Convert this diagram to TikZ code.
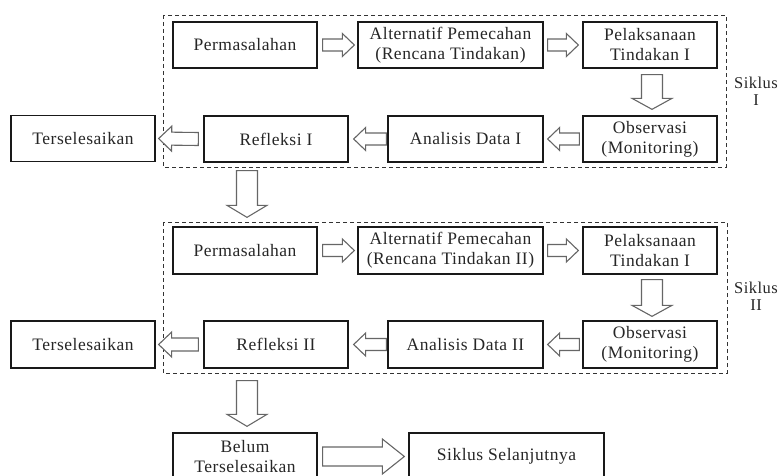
\documentclass[tikz,border=0pt]{standalone}
\usepackage{fontspec}
\setmainfont{Liberation Serif}[LetterSpace=3]
\usetikzlibrary{calc}
\newcommand\blockarrow[5]{%
  \draw[blk] let \p1=(#1), \p2=(#2), \p3=($(#2)!#5!(#1)$) in
   ($(\p1)!#3!90:(\p2)$) -- ($(\p3)!#3!90:(\p2)$) -- ($(\p3)!#4!90:(\p2)$) -- (\p2)
   -- ($(\p3)!#4!-90:(\p2)$) -- ($(\p3)!#3!-90:(\p2)$) -- ($(\p1)!#3!-90:(\p2)$) -- cycle;}
\begin{document}
\begin{tikzpicture}[x=1pt,y=-1pt,
  box/.style={draw=black!90, line width=1.3pt, minimum height=46pt, inner sep=2pt,
    align=center, font=\fontsize{17.5}{20}\selectfont, text=black!85},
  blk/.style={draw=black!60, line width=1.1pt, fill=white, line join=miter},
  cyc/.style={draw=black!80, line width=0.9pt, dash pattern=on 4pt off 3pt},
  lbl/.style={align=center, font=\fontsize{16.5}{17}\selectfont, text=black!85}]
\useasboundingbox (0,0) rectangle (781,476);
% cycle frames
\draw[cyc] (163,15) rectangle (726,167);
\draw[cyc] (163,222) rectangle (727,373);
% cycle I
\node[box, minimum width=144pt] (perm1) at (245,45) {Permasalahan};
\node[box, minimum width=185pt] (alt1) at (450.5,45) {Alternatif Pemecahan\\(Rencana Tindakan)};
\node[box, minimum width=134pt] (pel1) at (650,45) {Pelaksanaan\\Tindakan I};
\node[box, minimum width=134pt] (obs1) at (650,139) {Observasi\\(Monitoring)};
\node[box, minimum width=155pt] (ana1) at (465.5,139) {Analisis Data I};
\node[box, minimum width=144pt] (ref1) at (276,139) {Refleksi I};
\node[box, minimum width=144pt] (ter1) at (83,138.5) {Terselesaikan};
\node[lbl] (sik1) at (756,91) {Siklus\\I};
% cycle II
\node[box, minimum width=144pt, minimum height=47pt] (perm2) at (245,250.5) {Permasalahan};
\node[box, minimum width=185pt, minimum height=47pt] (alt2) at (450.5,250.5) {Alternatif Pemecahan\\(Rencana Tindakan II)};
\node[box, minimum width=134pt, minimum height=47pt] (pel2) at (650,250.5) {Pelaksanaan\\Tindakan I};
\node[box, minimum width=134pt, minimum height=47pt] (obs2) at (650,344.5) {Observasi\\(Monitoring)};
\node[box, minimum width=155pt, minimum height=47pt] (ana2) at (465.5,344.5) {Analisis Data II};
\node[box, minimum width=144pt, minimum height=47pt] (ref2) at (276,344.5) {Refleksi II};
\node[box, minimum width=144pt, minimum height=47pt] (ter2) at (83,344.5) {Terselesaikan};
\node[lbl] (sik2) at (756,296) {Siklus\\II};
% bottom
\node[box, minimum width=144pt, minimum height=47pt] (bel) at (245,456.5) {Belum\\Terselesaikan};
\node[box, minimum width=195pt, minimum height=47pt] (nxt) at (506.5,456.5) {Siklus Selanjutnya};
% arrow end points
\coordinate (a1) at ($(perm1.east)+(5,0)$);  \coordinate (b1) at ($(alt1.west)+(-3,0)$);
\coordinate (a2) at ($(alt1.east)+(4,0)$);   \coordinate (b2) at ($(pel1.west)+(-4,0)$);
\coordinate (a3) at ($(pel1.south)+(2,6)$);  \coordinate (b3) at ($(obs1.north)+(2,-6)$);
\coordinate (a4) at ($(obs1.west)+(-3,0)$);  \coordinate (b4) at ($(ana1.east)+(4,0)$);
\coordinate (a5) at ($(ana1.west)+(-1,0)$);  \coordinate (b5) at ($(ref1.east)+(5,0)$);
\coordinate (a6) at ($(ref1.west)+(-5,0)$);  \coordinate (b6) at ($(ter1.east)+(3,0)$);
\coordinate (a7) at ($(ref1.south)+(-29,8)$); \coordinate (b7) at ($(perm2.north)+(2,-9)$);
\coordinate (c1) at ($(perm2.east)+(5,0)$);  \coordinate (d1) at ($(alt2.west)+(-3,0)$);
\coordinate (c2) at ($(alt2.east)+(4,0)$);   \coordinate (d2) at ($(pel2.west)+(-4,0)$);
\coordinate (c3) at ($(pel2.south)+(2,5)$);  \coordinate (d3) at ($(obs2.north)+(2,-4)$);
\coordinate (c4) at ($(obs2.west)+(-3,0)$);  \coordinate (d4) at ($(ana2.east)+(4,0)$);
\coordinate (c5) at ($(ana2.west)+(-1,0)$);  \coordinate (d5) at ($(ref2.east)+(5,0)$);
\coordinate (c6) at ($(ref2.west)+(-5,0)$);  \coordinate (d6) at ($(ter2.east)+(3,0)$);
\coordinate (c7) at ($(ref2.south)+(-29,12)$); \coordinate (d7) at ($(bel.north)+(2,-6)$);
\coordinate (e1) at ($(bel.east)+(5,0)$);    \coordinate (f1) at ($(nxt.west)+(-4,0)$);
% arrows
\blockarrow{a1}{b1}{6pt}{11.5pt}{12pt}
\blockarrow{a2}{b2}{6pt}{11.5pt}{12pt}
\blockarrow{a3}{b3}{10.5pt}{20pt}{11pt}
\blockarrow{a4}{b4}{6pt}{11.5pt}{12pt}
\blockarrow{a5}{b5}{6pt}{11.5pt}{12pt}
\blockarrow{a6}{b6}{6.5pt}{12.5pt}{13pt}
\blockarrow{a7}{b7}{10.5pt}{20pt}{12pt}
\blockarrow{c1}{d1}{6pt}{11.5pt}{12pt}
\blockarrow{c2}{d2}{6pt}{11.5pt}{12pt}
\blockarrow{c3}{d3}{10.5pt}{20pt}{11pt}
\blockarrow{c4}{d4}{6pt}{11.5pt}{12pt}
\blockarrow{c5}{d5}{6pt}{11.5pt}{12pt}
\blockarrow{c6}{d6}{6.5pt}{12.5pt}{13pt}
\blockarrow{c7}{d7}{10.5pt}{20pt}{12pt}
\blockarrow{e1}{f1}{9.5pt}{17.5pt}{22pt}
\end{tikzpicture}
\end{document}
